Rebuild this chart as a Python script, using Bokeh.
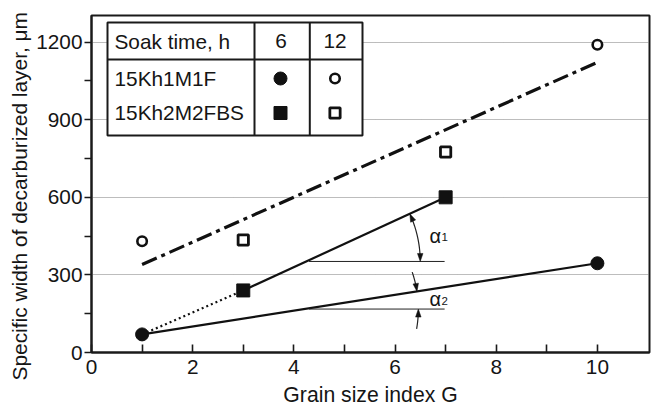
import numpy as np
from bokeh.plotting import figure
from bokeh.models import Range1d, FixedTicker, Title
from bokeh.core.properties import value
from bokeh.embed import file_html
from bokeh.resources import INLINE

# ---------------- data ----------------
grain_a = [1, 10]            # 15Kh1M1F
width_a_6h = [70, 345]
width_a_12h = [430, 1190]
grain_b = [3, 7]             # 15Kh2M2FBS
width_b_6h = [240, 600]
width_b_12h = [435, 775]
trend_12h_x = [1, 10]
trend_12h_y = [340, 1122]
ref_y1 = 352                 # horizontal reference for alpha1
ref_y2 = 168                 # horizontal reference for alpha2
ref_x = [4.3, 6.98]

y_ticks = [0, 300, 600, 900, 1200]
y_minor = [150, 450, 750, 1050]
y_grid = [300, 600, 900, 1200]
x_ticks = [0, 2, 4, 6, 8, 10]
x_minor = [1, 3, 5, 7, 9]

table_header = ["Soak time, h", "6", "12"]
table_rows = ["15Kh1M1F", "15Kh2M2FBS"]

# ---------------- geometry ----------------
W, H = 657, 409
LEFT, RIGHT, TOP, BOTTOM = 91, 8, 15, 57
X_END, Y_END = 11.03, 1303
FW = W - LEFT - RIGHT
FH = H - TOP - BOTTOM
SX = FW / X_END
SY = FH / Y_END
FONT = "Liberation Sans"
TXT = "#151515"


def px2x(px):
    return (px - LEFT) / SX


def px2y(py):
    return (H - BOTTOM - py) / SY


p = figure(width=W, height=H, output_backend="svg", toolbar_location=None,
           x_range=Range1d(0, X_END), y_range=Range1d(0, Y_END),
           min_border_left=LEFT, min_border_right=RIGHT,
           min_border_top=TOP, min_border_bottom=BOTTOM)
p.background_fill_color = "white"
p.border_fill_color = "white"
p.outline_line_color = "#1a1a1a"
p.outline_line_width = 2
p.outline_line_alpha = 1

p.xgrid.visible = False
p.ygrid.ticker = FixedTicker(ticks=y_grid)
p.ygrid.grid_line_color = "#7a7a7a"
p.ygrid.grid_line_dash = "1 1"
p.ygrid.grid_line_width = 1

for ax in (p.xaxis[0], p.yaxis[0]):
    ax.axis_line_width = 2
    ax.axis_line_color = "#1a1a1a"
    ax.major_tick_line_width = 1.6
    ax.minor_tick_line_width = 1.6
    ax.major_tick_line_color = "#1a1a1a"
    ax.minor_tick_line_color = "#1a1a1a"
    ax.major_label_text_font = FONT
    ax.major_label_text_font_size = "20.8px"
    ax.major_label_text_color = TXT
    ax.axis_label_text_font = FONT
    ax.axis_label_text_font_size = "21.2px"
    ax.axis_label_text_font_style = "normal"
    ax.axis_label_text_color = TXT

xa = p.xaxis[0]
xa.ticker = FixedTicker(ticks=x_ticks, minor_ticks=x_minor)
xa.major_tick_in = 8
xa.major_tick_out = 0
xa.minor_tick_in = 8
xa.minor_tick_out = 0
xa.major_label_standoff = 7
xa.axis_label = "Grain size index G"
xa.axis_label_standoff = 6

ya = p.yaxis[0]
ya.ticker = FixedTicker(ticks=y_ticks, minor_ticks=y_minor)
ya.major_tick_in = 0
ya.major_tick_out = 7
ya.minor_tick_in = 0
ya.minor_tick_out = 7
ya.major_label_standoff = 2

ytitle = Title(text="Specific width of decarburized layer, \u03bcm",
               align="left", vertical_align="bottom", offset=-28, standoff=6,
               text_font=FONT, text_font_size="20.9px", text_font_style="normal",
               text_color=TXT)
p.add_layout(ytitle, "left")

# ---------------- lines ----------------
p.line(grain_a, width_a_6h, line_color="#111111", line_width=2.2)
p.line(grain_b, width_b_6h, line_color="#111111", line_width=2.2)
p.line([grain_a[0], grain_b[0]], [width_a_6h[0], width_b_6h[0]],
       line_color="#111111", line_width=2.2, line_dash="2 3")
p.line(trend_12h_x, trend_12h_y, line_color="#111111", line_width=3.2,
       line_dash="16 5 4 5")

# reference horizontals
p.line(ref_x, [ref_y1, ref_y1], line_color="#222222", line_width=1)
p.line(ref_x, [ref_y2, ref_y2], line_color="#222222", line_width=1)


def screen_angle(xs, ys):
    return np.arctan2((ys[1] - ys[0]) * SY, (xs[1] - xs[0]) * SX)


def arc_pts(cx, cy, r, a0, a1, n=40):
    t = np.linspace(a0, a1, n)
    return list(cx + r * np.cos(t) / SX), list(cy + r * np.sin(t) / SY)


def head(cx, cy, r, a, direction, L=8, Wd=5.5):
    tip = np.array([r * np.cos(a), r * np.sin(a)])
    d = direction * np.array([-np.sin(a), np.cos(a)])
    nrm = np.array([np.cos(a), np.sin(a)])
    base = tip - L * d
    pts = [tip, base + Wd / 2 * nrm, base - Wd / 2 * nrm]
    return [cx + q[0] / SX for q in pts], [cy + q[1] / SY for q in pts]


R = 114
th_b = screen_angle(grain_b, width_b_6h)
th_a = screen_angle(grain_a, width_a_6h)
cx1 = grain_b[0] + (ref_y1 - width_b_6h[0]) * (grain_b[1] - grain_b[0]) / (width_b_6h[1] - width_b_6h[0])
cy1 = ref_y1
cx2 = grain_a[0] + (ref_y2 - width_a_6h[0]) * (grain_a[1] - grain_a[0]) / (width_a_6h[1] - width_a_6h[0])
cy2 = ref_y2

arcs_x, arcs_y, hx, hy = [], [], [], []
ax_, ay_ = arc_pts(cx1, cy1, R, 0.04, th_b - 0.04)
arcs_x.append(ax_); arcs_y.append(ay_)
for a, dr in ((0.0, -1), (th_b, 1)):
    u, v = head(cx1, cy1, R, a, dr); hx.append(u); hy.append(v)
ax_, ay_ = arc_pts(cx2, cy2, R, th_a + np.radians(10), th_a + 0.04)
arcs_x.append(ax_); arcs_y.append(ay_)
ax_, ay_ = arc_pts(cx2, cy2, R, -np.radians(10), -0.04)
arcs_x.append(ax_); arcs_y.append(ay_)
for a, dr in ((th_a, -1), (0.0, 1)):
    u, v = head(cx2, cy2, R, a, dr); hx.append(u); hy.append(v)
p.multi_line(arcs_x, arcs_y, line_color="#222222", line_width=1.2)
p.patches(hx, hy, fill_color="#111111", line_color="#111111", line_width=0.5)

# alpha labels
p.text(x=[px2x(429), px2x(429)], y=[px2y(235), px2y(298.5)], text=["\u03b1", "\u03b1"],
       text_font=value(FONT), text_font_size=value("20px"), text_color=TXT,
       text_baseline="middle", text_align="left")
p.text(x=[px2x(441), px2x(441)], y=[px2y(236.8), px2y(300.5)], text=["1", "2"],
       text_font=value(FONT), text_font_size=value("11.5px"), text_color=TXT,
       text_baseline="middle", text_align="left")

# ---------------- markers ----------------
p.scatter(grain_a, width_a_6h, marker="circle", size=13, fill_color="#111111", line_color="#111111")
p.scatter(grain_a, width_a_12h, marker="circle", size=9.5, fill_color="white",
          line_color="#111111", line_width=2.6)
p.scatter(grain_b, width_b_6h, marker="square", size=13, fill_color="#111111", line_color="#111111")
p.scatter(grain_b, width_b_12h, marker="square", size=10.3, fill_color="white",
          line_color="#111111", line_width=2.8)

# ---------------- table legend ----------------
tl, tr, tt, tb = 107, 362, 22, 135
c1, c2, hline = 254, 309.3, 59
p.quad(left=[px2x(tl)], right=[px2x(tr)], top=[px2y(tt)], bottom=[px2y(tb)],
       fill_color="white", line_color="#1a1a1a", line_width=2)
p.segment(x0=[px2x(c1), px2x(c2), px2x(tl)], y0=[px2y(tt), px2y(tt), px2y(hline)],
          x1=[px2x(c1), px2x(c2), px2x(tr)], y1=[px2y(tb), px2y(tb), px2y(hline)],
          line_color="#1a1a1a", line_width=2)
p.text(x=[px2x(114), px2x(114), px2x(114)], y=[px2y(40.5), px2y(78), px2y(111.5)],
       text=[table_header[0], table_rows[0], table_rows[1]],
       text_font=value(FONT), text_font_size=value("20.8px"), text_color=TXT,
       text_baseline="middle", text_align="left")
p.text(x=[px2x(280.5), px2x(334.5)], y=[px2y(40.5), px2y(40.5)],
       text=[table_header[1], table_header[2]],
       text_font=value(FONT), text_font_size=value("20.8px"), text_color=TXT,
       text_baseline="middle", text_align="center")
p.scatter([px2x(280)], [px2y(78)], marker="circle", size=13, fill_color="#111111", line_color="#111111")
p.scatter([px2x(334.5)], [px2y(78)], marker="circle", size=9.5, fill_color="white",
          line_color="#111111", line_width=2.6)
p.scatter([px2x(280)], [px2y(112.5)], marker="square", size=13, fill_color="#111111", line_color="#111111")
p.scatter([px2x(334.5)], [px2y(112.5)], marker="square", size=10.3, fill_color="white",
          line_color="#111111", line_width=2.8)

open("out.html", "w").write(file_html(p, INLINE))
